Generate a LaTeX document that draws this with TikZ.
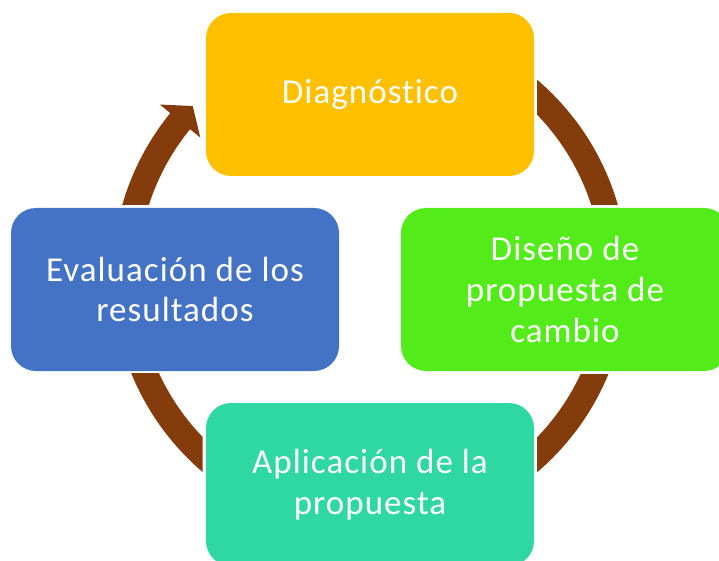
\documentclass[tikz,border=0pt]{standalone}
\usepackage{fontspec}
\setmainfont{Carlito}[RawFeature=-liga,LetterSpace=3]
\definecolor{cdiag}{HTML}{FFC000}
\definecolor{cdis}{HTML}{54EB1A}
\definecolor{capl}{HTML}{2FD7A3}
\definecolor{ceval}{HTML}{4472C4}
\definecolor{carc}{HTML}{843C0C}
\begin{document}
\begin{tikzpicture}[x=1pt,y=1pt,
  stage/.style={rounded corners=25pt, minimum width=328pt, minimum height=163pt,
    inner sep=0pt, align=center, text=white, font=\fontsize{35}{40.8}\selectfont},
  ring/.style={draw=carc, line width=25.5pt}]
\useasboundingbox (0,0) rectangle (719,560);
\clip (0,0) rectangle (719,560);
\coordinate (c) at (370,284);
% ring segments
\begin{scope}
  \clip (537,355) rectangle (740,570);
  \draw[ring] (c) circle[radius=245];
\end{scope}
\begin{scope}
  \clip (537,-20) rectangle (740,186);
  \draw[ring] (c) circle[radius=245];
\end{scope}
\begin{scope}
  \clip (-20,-20) rectangle (202.7,187);
  \draw[ring] (c) circle[radius=245];
\end{scope}
\begin{scope}
  \clip (-20,355) rectangle (300,570);
  \draw[ring] ([shift={(175:245)}]c) arc[start angle=175, end angle=140.6, radius=245];
\end{scope}
\fill[carc] ([shift={(140.8:271.3)}]c) coordinate (w1) -- ([shift={(136.2:245.6)}]c) coordinate (tip) -- ([shift={(140.8:219)}]c) coordinate (w2) -- cycle;
% stages
\node[stage, fill=cdiag] (diag) at (370,465.5) {Diagnóstico};
\node[stage, fill=cdis] (dis) at (565,270.5) {Diseño de\\propuesta de\\cambio};
\node[stage, fill=capl] (apl) at (370,75.5) {Aplicación de la\\propuesta};
\node[stage, fill=ceval] (eval) at (175,270.5) {Evaluación de los\\resultados};
\end{tikzpicture}
\end{document}
